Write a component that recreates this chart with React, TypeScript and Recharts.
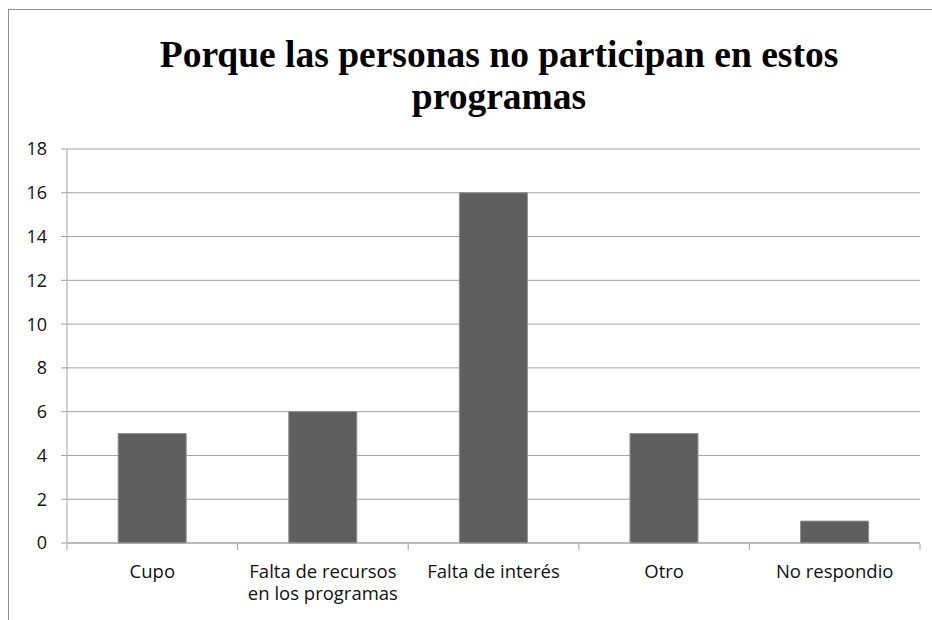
import React from 'react';
import { BarChart, Bar, XAxis, YAxis, CartesianGrid } from 'recharts';

const categories = ['Cupo', 'Falta de recursos en los programas', 'Falta de interés', 'Otro', 'No respondio'];
const counts = [5, 6, 16, 5, 1];
const yTicks = [0, 2, 4, 6, 8, 10, 12, 14, 16, 18];
const edgeTicks = [0, 1, 2, 3, 4, 5];

// pos = middle of each category slot, only used by the hidden boundary-tick axis
const data = categories.map((name, i) => ({ name, value: counts[i], pos: i + 0.5 }));

const GRID = '#a3a3a3';
const FONT = '"Open Sans", sans-serif';
const MAX_CHARS = 17;

// greedy word wrap, good enough for these short labels
const wrap = (label: string) => {
  const lines: string[] = [];
  let cur = '';
  label.split(' ').forEach((w) => {
    const next = cur ? cur + ' ' + w : w;
    if (next.length > MAX_CHARS && cur) {
      lines.push(cur);
      cur = w;
    } else {
      cur = next;
    }
  });
  if (cur) lines.push(cur);
  return lines;
};

const CategoryTick = (props: any) => {
  const { x, y, payload } = props;
  return (
    <text x={x} y={y} textAnchor="middle" fontFamily={FONT} fontSize={18.5} fill="#111">
      {wrap(String(payload.value)).map((line, i) => (
        <tspan key={i} x={x} dy={i === 0 ? 13 : 22}>
          {line}
        </tspan>
      ))}
    </text>
  );
};

const EmptyTick = () => <g />;

const App: React.FC = () => (
  <div
    style={{
      position: 'fixed',
      left: 8,
      top: 9,
      width: 940,
      height: 620,
      borderTop: '1px solid #8f8f8f',
      borderLeft: '1px solid #8f8f8f',
      background: '#fff',
    }}
  >
    <div
      style={{
        position: 'absolute',
        left: 0,
        top: 24,
        width: 980,
        textAlign: 'center',
        fontFamily: '"Liberation Serif", "Times New Roman", serif',
        fontWeight: 'bold',
        fontSize: 37.5,
        lineHeight: '42px',
        color: '#000',
      }}
    >
      Porque las personas no participan en estos
      <br />
      programas
    </div>
    <BarChart
      width={923}
      height={610}
      data={data}
      barCategoryGap="30%"
      margin={{ top: 139, right: 12, left: 0, bottom: 16 }}
    >
      <CartesianGrid stroke={GRID} vertical={false} xAxisId="cat" />
      {/* tick marks between categories, sits right under the category axis line */}
      <XAxis
        xAxisId="edges"
        dataKey="pos"
        type="number"
        domain={[0, categories.length]}
        allowDataOverflow
        ticks={edgeTicks}
        axisLine={false}
        tickLine={{ stroke: GRID }}
        tickSize={6}
        tick={<EmptyTick />}
        height={60}
      />
      <XAxis
        dataKey="name"
        xAxisId="cat"
        axisLine={{ stroke: GRID }}
        tickLine={false}
        tick={<CategoryTick />}
        tickMargin={16}
        height={1}
        interval={0}
      />
      <YAxis
        domain={[0, 18]}
        ticks={yTicks}
        width={58}
        axisLine={{ stroke: GRID }}
        tickLine={{ stroke: GRID }}
        tickSize={6}
        tickMargin={14}
        tick={{ fontFamily: FONT, fontSize: 18, fill: '#111' }}
      />
      <Bar dataKey="value" xAxisId="cat" fill="#5f5f5f" stroke="#8e8e8e" strokeWidth={1} isAnimationActive={false} />
    </BarChart>
  </div>
);

export default App;
